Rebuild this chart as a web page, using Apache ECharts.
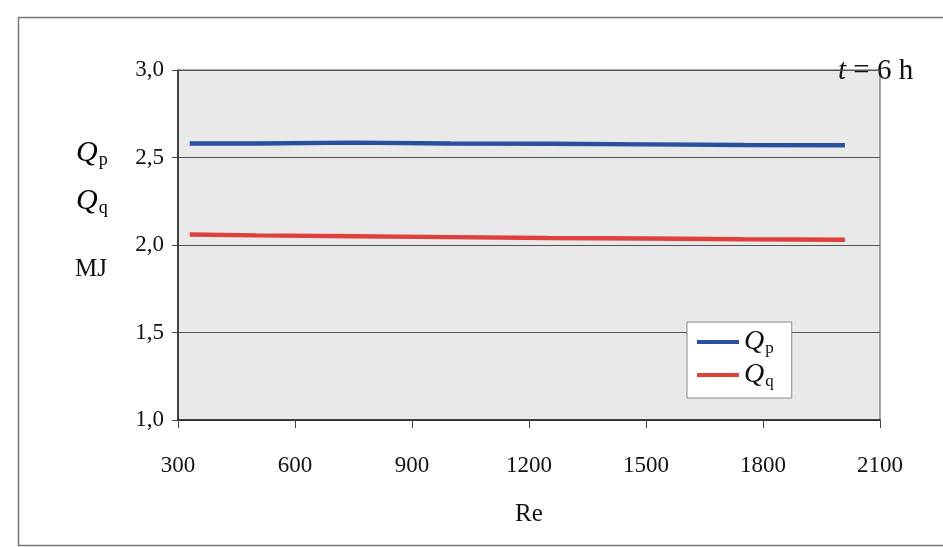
<!DOCTYPE html>
<html><head><meta charset="utf-8">
<script src="https://cdn.jsdelivr.net/npm/echarts@6/dist/echarts.min.js"></script>
<style>html,body{margin:0;padding:0;background:#fff}#c{width:943px;height:547px}</style>
</head><body><div id="c"></div>
<script>
const reValues = [330, 500, 750, 1000, 1250, 1500, 1750, 2010];
const qpValues = [2.58, 2.58, 2.585, 2.58, 2.578, 2.575, 2.572, 2.57];
const qqValues = [2.06, 2.055, 2.05, 2.045, 2.04, 2.037, 2.033, 2.03];
const xTicks = [300, 600, 900, 1200, 1500, 1800, 2100];
const yTicks = [1.0, 1.5, 2.0, 2.5, 3.0];

const font = 'Liberation Serif';
const chart = echarts.init(document.getElementById('c'));
const qRich = {
  q: {fontFamily: font, fontStyle: 'italic', fontSize: 30, color: '#111'},
  s: {fontFamily: font, fontSize: 18, color: '#111', verticalAlign: 'bottom', padding: [14, 0, 0, 1]}
};
const lgRich = {
  q: {fontFamily: font, fontStyle: 'italic', fontSize: 28, color: '#111'},
  s: {fontFamily: font, fontSize: 17, color: '#111', verticalAlign: 'bottom', padding: [13, 0, 0, 1]}
};
chart.setOption({
  animation: false,
  backgroundColor: '#fff',
  textStyle: {fontFamily: font},
  grid: {left: 178, right: 63, top: 70, bottom: 127, show: true, backgroundColor: '#e9e9e9', borderColor: '#555', borderWidth: 1},
  graphic: [
    {type: 'rect', left: 16, top: 15, shape: {width: 940, height: 528}, style: {fill: 'none', stroke: '#777', lineWidth: 1.5}, silent: true},
    {type: 'text', left: 76, top: 138, style: {text: '{q|Q}{s|p}', rich: qRich}},
    {type: 'text', left: 76, top: 186, style: {text: '{q|Q}{s|q}', rich: qRich}},
    {type: 'text', left: 75, top: 257, style: {text: 'MJ', fontFamily: font, fontSize: 25, fill: '#111'}},
    {type: 'text', left: 838, top: 57, style: {text: '{i|t} = 6 h', rich: {i: {fontFamily: font, fontStyle: 'italic', fontSize: 29, color: '#111'}}, fontFamily: font, fontSize: 29, fill: '#111'}}
  ],
  legend: {
    orient: 'vertical', left: 687, top: 322,
    backgroundColor: '#fff', borderColor: '#888', borderWidth: 1,
    padding: [6, 18, 8, 10], itemGap: 4,
    icon: 'rect', itemWidth: 42, itemHeight: 4,
    data: ['Qp', 'Qq'],
    formatter: n => '{q|Q}{s|' + n.slice(1) + '}',
    textStyle: {rich: lgRich}
  },
  xAxis: {
    type: 'value', min: xTicks[0], max: xTicks[xTicks.length - 1], interval: 300,
    name: 'Re', nameLocation: 'middle', nameGap: 82,
    nameTextStyle: {fontFamily: font, fontSize: 25, color: '#111'},
    axisLine: {show: true, lineStyle: {color: '#222', width: 1.5}},
    axisTick: {show: true, length: 8, lineStyle: {color: '#444'}},
    axisLabel: {fontFamily: font, fontSize: 23, color: '#111', margin: 34, formatter: v => String(v)},
    splitLine: {show: false}
  },
  yAxis: {
    type: 'value', min: yTicks[0], max: yTicks[yTicks.length - 1], interval: 0.5,
    axisLine: {show: true, lineStyle: {color: '#222', width: 1.5}},
    axisTick: {show: true, length: 6, lineStyle: {color: '#444'}},
    axisLabel: {fontFamily: font, fontSize: 23, color: '#111', margin: 14,
      formatter: v => v.toFixed(1).replace('.', ',')},
    splitLine: {show: true, lineStyle: {color: '#555', width: 1}}
  },
  series: [
    {name: 'Qp', type: 'line', data: reValues.map((r, i) => [r, qpValues[i]]), showSymbol: false,
     itemStyle: {color: '#2b4f9f'}, lineStyle: {color: '#2b4f9f', width: 4.5}},
    {name: 'Qq', type: 'line', data: reValues.map((r, i) => [r, qqValues[i]]), showSymbol: false,
     itemStyle: {color: '#e0403c'}, lineStyle: {color: '#e0403c', width: 4.5}}
  ]
});
</script></body></html>
